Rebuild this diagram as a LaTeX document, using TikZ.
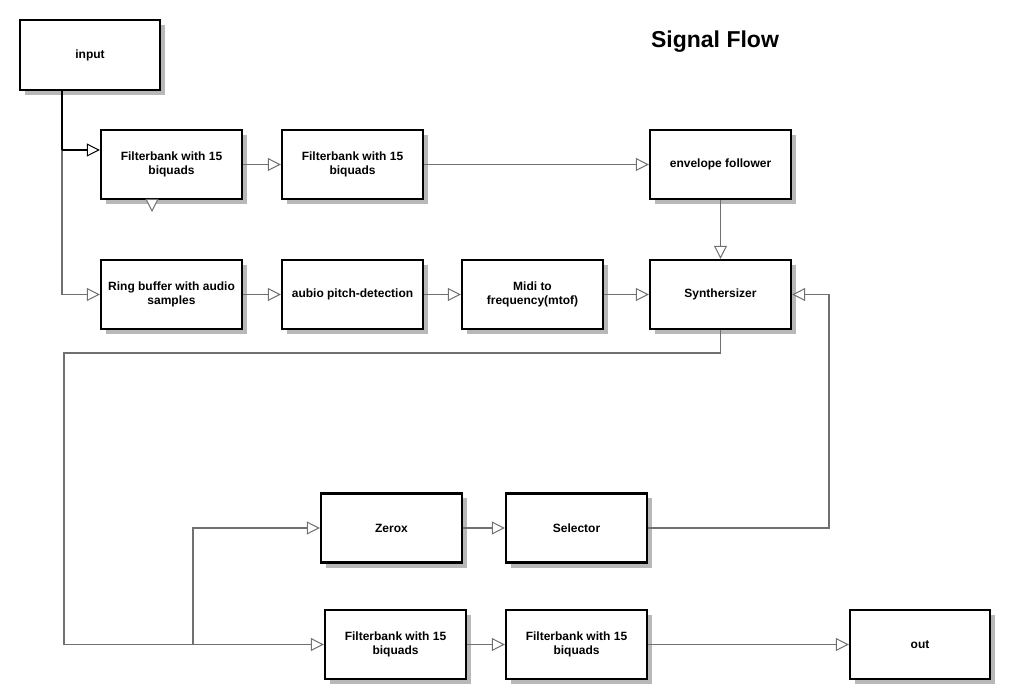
\documentclass[tikz,border=0pt]{standalone}
\usepackage{fontspec}
\setmainfont{Liberation Sans}
\usetikzlibrary{arrows.meta,shadows}
\definecolor{linegray}{HTML}{707070}
\definecolor{shadowgray}{HTML}{B8B8B8}
\begin{document}
\begin{tikzpicture}[x=1pt,y=-1pt,
  blk/.style={draw=black, line width=2.4pt, fill=white, minimum width=141pt, minimum height=69pt,
    align=center, font=\fontsize{12}{14.5}\selectfont\bfseries, inner sep=2pt,
    drop shadow={shadow xshift=5pt, shadow yshift=-5pt, fill=shadowgray, opacity=1}},
  arr/.style={-{Triangle[length=13pt,width=13pt,fill=white,line width=1pt]}},
  gline/.style={draw=linegray, line width=1.8pt, arr},
  bline/.style={draw=black, line width=2.2pt},
]
\useasboundingbox (0,0) rectangle (1010,700);
\fill[white] (0,0) rectangle (1010,700);

\node[font=\fontsize{23}{26}\selectfont\bfseries] (title) at (715,42) {Signal Flow};

\node[blk, minimum width=140pt, minimum height=70pt] (input) at (90,55) {input};
\node[blk] (fb1) at (171.5,164.5) {Filterbank with 15\\biquads};
\node[blk] (fb2) at (352.5,164.5) {Filterbank with 15\\biquads};
\node[blk] (env) at (720.5,164.5) {envelope follower};
\node[blk] (ring) at (171.5,294.5) {Ring buffer with audio\\samples};
\node[blk] (aubio) at (352.5,294.5) {aubio pitch-detection};
\node[blk] (midi) at (532.5,294.5) {Midi to\\frequency(mtof)};
\node[blk] (synth) at (720.5,294.5) {Synthersizer};
\node[blk] (zerox) at (391.5,528) {Zerox};
\node[blk] (sel) at (576.5,528) {Selector};
\node[blk] (fb3) at (395.5,644.5) {Filterbank with 15\\biquads};
\node[blk] (fb4) at (576.5,644.5) {Filterbank with 15\\biquads};
\node[blk, minimum width=140pt] (out) at (920,644.5) {out};

\coordinate (j1) at (62,150);
\coordinate (a1) at (64,353);
\coordinate (a3) at (193,600);
\coordinate (b1) at (829,400);
\coordinate (t1) at (152,212);

% input branch
\draw[gline] (j1) |- (ring.west);
\draw[bline] (input.south -| j1) -- (j1);
\draw[bline, arr] (j1) -- (j1 -| fb1.west);
\draw[gline] (fb1.south -| t1) -- (t1);

\draw[gline] (fb1.east) -- (fb2.west);
\draw[gline] (fb2.east) -- (env.west);
\draw[gline] (env.south) -- (synth.north);

\draw[gline] (ring.east) -- (aubio.west);
\draw[gline] (aubio.east) -- (midi.west);
\draw[gline] (midi.east) -- (synth.west);

% synth output
\draw[gline] (synth.south) |- (a1) |- (fb3.west);
\draw[gline] (a3 |- fb3.west) |- (zerox.west);
\draw[gline] (zerox.east) -- (sel.west);
\draw[gline] (sel.east) -| (b1) |- (synth.east);

\draw[gline] (fb3.east) -- (fb4.west);
\draw[gline] (fb4.east) -- (out.west);
\end{tikzpicture}
\end{document}
